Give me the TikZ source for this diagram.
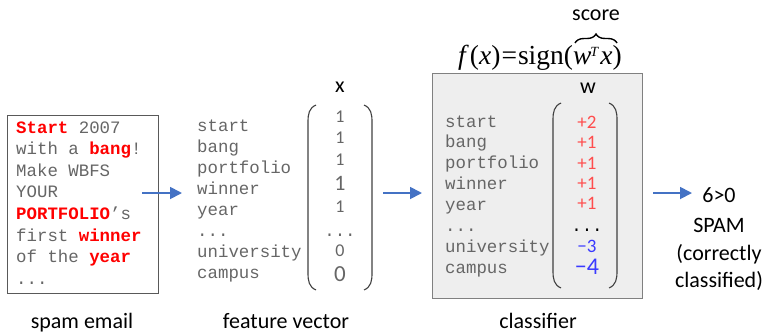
\documentclass[tikz,border=0pt]{standalone}
\usepackage{fontspec}
\setmainfont{Liberation Serif}
\newfontfamily\monofont{Liberation Mono}
\newfontfamily\labelfont{Carlito}
\usetikzlibrary{arrows.meta,decorations.pathreplacing}
\definecolor{txtgray}{HTML}{666666}
\definecolor{spamred}{HTML}{FF0000}
\definecolor{posred}{HTML}{FF4D4D}
\definecolor{negblue}{HTML}{3A3AFF}
\definecolor{arrowblue}{HTML}{4472C4}
\definecolor{boxgray}{HTML}{EEEEEE}
\newcommand{\hl}[1]{\textcolor{spamred}{\textbf{#1}}}
\newcommand{\tdots}{.{}.{}.}
\tikzset{
  codeline/.style={anchor=base west, inner sep=0pt, text=txtgray,
    font=\fontsize{17.4}{21}\selectfont\monofont},
  caption/.style={anchor=base, inner sep=0pt, text=black,
    font=\fontsize{22}{26}\selectfont\labelfont},
  vecval/.style={anchor=center, inner sep=0pt, text=txtgray, font=\labelfont},
  wval/.style={anchor=center, inner sep=0pt, font=\labelfont},
  bracket/.style={draw=black!75, line width=1.1pt},
  flow/.style={draw=arrowblue, line width=1.8pt,
    -{Triangle[length=12pt,width=12pt]}},
}
\begin{document}
\begin{tikzpicture}[x=1pt,y=-1pt]
\useasboundingbox (0,0) rectangle (767,333);

% ---- spam email ----
\node[draw=black!65, line width=1.2pt, fill=white, minimum width=151pt,
  minimum height=178pt, anchor=north west, inner sep=0pt] (email) at (7,115) {};
\foreach \t [count=\i] in {{\hl{Start} 2007}, {with a \hl{bang}!}, {Make WBFS},
  {YOUR}, {\hl{PORTFOLIO}’s}, {first \hl{winner}}, {of the \hl{year}}, {\tdots}}
  \node[codeline] (e\i) at (16,{133+21.6*(\i-1)}) {\t};
\node[caption] (emailcap) at (82,328) {spam email};

% ---- feature vector ----
\foreach \t [count=\i] in {start, bang, portfolio, winner, year, {\tdots}, university, campus}
  \node[codeline] (f\i) at (197,{131+21.1*(\i-1)}) {\t};
\node[caption, anchor=center] (xlab) at (340,87) {x};
\node[vecval, font=\fontsize{18}{20}\selectfont\labelfont] (x1) at (340,117) {1};
\node[vecval, font=\fontsize{18}{20}\selectfont\labelfont] (x2) at (340,138) {1};
\node[vecval, font=\fontsize{18}{20}\selectfont\labelfont] (x3) at (340,160) {1};
\node[vecval, font=\fontsize{22}{24}\selectfont\labelfont] (x4) at (340,183) {1};
\node[vecval, font=\fontsize{18}{20}\selectfont\labelfont] (x5) at (340,207) {1};
\node[codeline, anchor=base] (x6) at (340,236) {\tdots};
\node[vecval, font=\fontsize{18}{20}\selectfont\labelfont] (x7) at (340,251) {0};
\node[vecval, font=\fontsize{23}{25}\selectfont\labelfont] (x8) at (340,274) {0};
\draw[bracket] (316,105) .. controls (309,108) and (308,114) .. (308,122)
  -- (308,273) .. controls (308,281) and (309,287) .. (316,290);
\draw[bracket] (364,105) .. controls (371,108) and (372,114) .. (372,122)
  -- (372,273) .. controls (372,281) and (371,287) .. (364,290);
\node[caption] (fvcap) at (286,328) {feature vector};

% ---- classifier ----
\node[draw=black!50, line width=1.2pt, fill=boxgray, minimum width=210pt,
  minimum height=225pt, anchor=north west, inner sep=0pt] (clf) at (432,73) {};
\foreach \t [count=\i] in {start, bang, portfolio, winner, year, {\tdots}, university, campus}
  \node[codeline] (c\i) at (445,{127+20.9*(\i-1)}) {\t};
\node[caption, anchor=center] (wlab) at (588,88) {w};
\node[wval, text=posred, font=\fontsize{19}{21}\selectfont\labelfont] (w1) at (587,122) {+2};
\node[wval, text=posred, font=\fontsize{19}{21}\selectfont\labelfont] (w2) at (587,142) {+1};
\node[wval, text=posred, font=\fontsize{19}{21}\selectfont\labelfont] (w3) at (587,163) {+1};
\node[wval, text=posred, font=\fontsize{19}{21}\selectfont\labelfont] (w4) at (587,183) {+1};
\node[wval, text=posred, font=\fontsize{19}{21}\selectfont\labelfont] (w5) at (587,203) {+1};
\node[codeline, anchor=base, text=black] (w6) at (587,231) {\tdots};
\node[wval, text=negblue, font=\fontsize{19}{21}\selectfont\labelfont] (w7) at (587,246) {−3};
\node[wval, text=negblue, font=\fontsize{24}{26}\selectfont\labelfont] (w8) at (587,267) {−4};
\draw[bracket] (561,103) .. controls (554,106) and (553,112) .. (553,120)
  -- (553,271) .. controls (553,279) and (554,285) .. (561,288);
\draw[bracket] (609,103) .. controls (616,106) and (617,112) .. (617,120)
  -- (617,271) .. controls (617,279) and (616,285) .. (609,288);
\node[caption] (clfcap) at (538,328) {classifier};

% ---- decision function ----
\node[anchor=base, inner sep=0pt, font=\fontsize{27.5}{30}\selectfont] (fx) at (540,64)
  {\textit{f}\kern1pt(\textit{x})\kern1pt=\kern1pt sign(\textit{w}\kern-1pt\raisebox{0.28em}{\fontsize{14}{15}\selectfont\textit{T}}\kern1.5pt\textit{x})};
\draw[line width=1.4pt, decorate, decoration={brace, amplitude=9pt}]
  (575,43) -- (617,43);
\node[caption] (score) at (596,20) {score};

% ---- output ----
\node[caption] (o1) at (719,202) {6>0};
\node[caption] (o2) at (719,232) {SPAM};
\node[caption] (o3) at (719,260) {(correctly};
\node[caption] (o4) at (719,287) {classified)};

% ---- flow arrows ----
\coordinate (a1s) at (142,193);
\coordinate (a1e) at (182,193);
\coordinate (a2s) at (383,193);
\coordinate (a2e) at (422,193);
\coordinate (a3s) at (653,193);
\coordinate (a3e) at (692,193);
\draw[flow] (a1s) -- (a1e);
\draw[flow] (a2s) -- (a2e);
\draw[flow] (a3s) -- (a3e);
\end{tikzpicture}
\end{document}
